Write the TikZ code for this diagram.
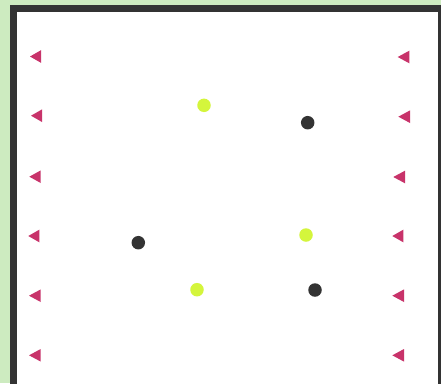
\documentclass[tikz,border=0pt]{standalone}
\usetikzlibrary{positioning}

\definecolor{bggreen}{HTML}{CDEBC0}
\definecolor{framegray}{HTML}{333333}
\definecolor{markpink}{HTML}{C8336A}
\definecolor{dotlime}{HTML}{D4F53C}

\begin{document}
\begin{tikzpicture}[
  x=1pt,y=-1pt,
  frame/.style={draw=framegray,line width=7pt,fill=white},
  marker/.style={fill=markpink},
  limedot/.style={circle,fill=dotlime,inner sep=0pt,minimum size=13.5pt},
  darkdot/.style={circle,fill=framegray,inner sep=0pt,minimum size=13.5pt}
]
  \useasboundingbox (0,0) rectangle (441,383);
  \clip (0,0) rectangle (441,383);
  \fill[bggreen] (0,0) rectangle (441,383);
  \draw[frame] (13.5,8.5) rectangle (441.5,400);

  % left column of markers: tip, base, height
  \foreach \tip/\base/\y in {30/41/56.5, 31/42/115.7, 29.3/40.7/176.7,
                             28.3/39.3/236, 29/40.7/295.7, 29/40.7/355.3}
    \fill[marker] (\tip,\y) -- (\base,\y-6.3) -- (\base,\y+6.3) -- cycle;
  % right column
  \foreach \tip/\base/\y in {397.7/409.3/57, 398.3/410/116.7, 393.3/405/177,
                             392.3/403.3/236, 392.3/404/295.7, 392.3/404/355.3}
    \fill[marker] (\tip,\y) -- (\base,\y-6.3) -- (\base,\y+6.3) -- cycle;

  % dots
  \node[limedot] (lime1) at (204,105.3) {};
  \node[darkdot] (dark1) at (307.7,122.7) {};
  \node[darkdot] (dark2) at (138.3,242.7) {};
  \node[limedot] (lime2) at (306,235) {};
  \node[limedot] (lime3) at (197,289.7) {};
  \node[darkdot] (dark3) at (315,290) {};
\end{tikzpicture}
\end{document}
